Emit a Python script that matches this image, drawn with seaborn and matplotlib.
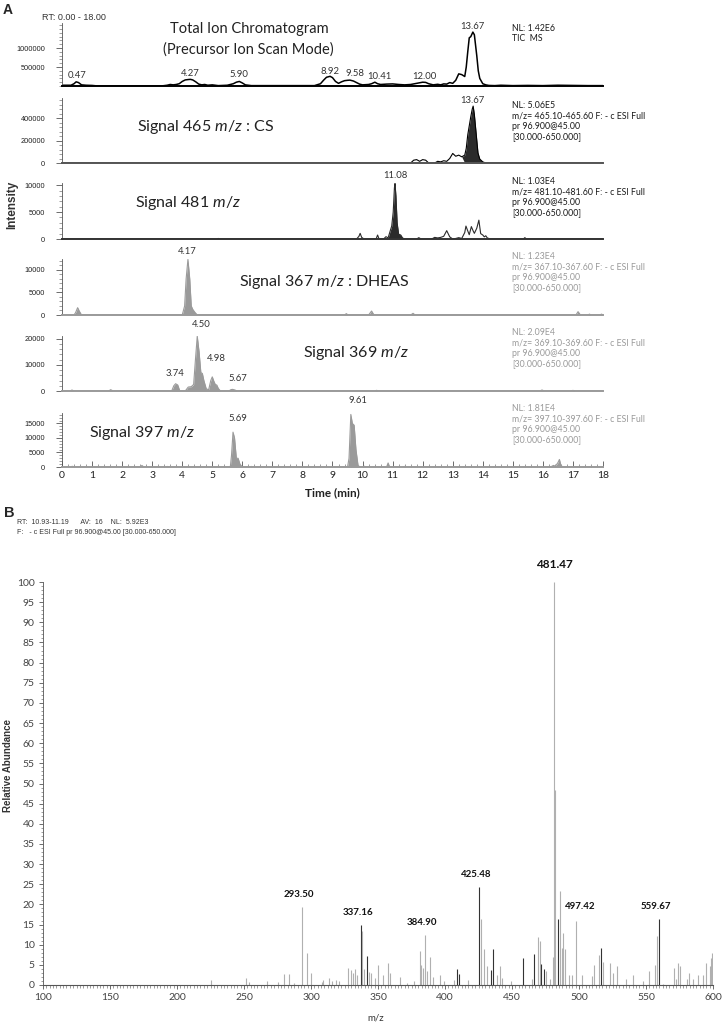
import numpy as np
import matplotlib
matplotlib.use("Agg")
import matplotlib.pyplot as plt
import seaborn as sns
from matplotlib.ticker import MultipleLocator

# ---- chromatogram traces (time in min, intensity in counts) ----
tic_t = [0.0, 0.3, 0.4, 0.47, 0.55, 0.65, 0.8, 1.0, 1.2, 3.3, 3.5, 3.6, 3.7, 3.8, 3.9, 4.0, 4.1, 4.2, 4.27,
         4.35, 4.45, 4.55, 4.65, 4.75, 4.85, 5.0, 5.2, 5.5, 5.7, 5.8, 5.9, 6.0, 6.1, 6.3, 8.4, 8.6, 8.7, 8.8,
         8.92, 9.0, 9.1, 9.2, 9.3, 9.4, 9.5, 9.58, 9.7, 9.8, 9.9, 10.0, 10.2, 10.3, 10.41, 10.5, 10.6, 10.8,
         11.0, 11.2, 11.4, 11.6, 11.8, 11.9, 12.0, 12.1, 12.2, 12.35, 12.5, 12.6, 12.7, 12.8, 12.9, 13.0, 13.1,
         13.2, 13.3, 13.4, 13.45, 13.5, 13.55, 13.6, 13.67, 13.72, 13.8, 13.85, 13.9, 14.0, 14.1, 14.2, 14.4,
         14.6, 15.0, 15.5, 16.0, 16.5, 17.0, 17.5, 18.0]
tic_i = [20e3, 20e3, 60e3, 110e3, 90e3, 30e3, 20e3, 15e3, 0, 0, 20e3, 40e3, 30e3, 40e3, 60e3, 120e3, 160e3,
         170e3, 175e3, 160e3, 110e3, 50e3, 30e3, 40e3, 20e3, 30e3, 10e3, 20e3, 60e3, 100e3, 120e3, 80e3, 30e3,
         10e3, 10e3, 60e3, 150e3, 230e3, 255e3, 220e3, 120e3, 70e3, 110e3, 140e3, 150e3, 155e3, 130e3, 90e3,
         50e3, 30e3, 40e3, 60e3, 100e3, 60e3, 40e3, 50e3, 55e3, 40e3, 30e3, 40e3, 70e3, 85e3, 100e3, 95e3,
         60e3, 30e3, 45e3, 30e3, 55e3, 50e3, 90e3, 70e3, 150e3, 320e3, 300e3, 250e3, 500e3, 900e3, 1270e3,
         1300e3, 1420e3, 1350e3, 800e3, 400e3, 200e3, 60e3, 30e3, 15e3, 10e3, 20e3, 10e3, 15e3, 10e3, 20e3,
         15e3, 10e3, 10e3]

cs_t = [0.0, 11.6, 11.7, 11.8, 11.9, 12.0, 12.1, 12.2, 12.4, 12.5, 12.6, 12.7, 12.8, 12.9, 13.0, 13.1, 13.2,
        13.3, 13.4, 13.45, 13.5, 13.55, 13.6, 13.65, 13.68, 13.72, 13.78, 13.84, 13.9, 14.0, 14.1, 18.0]
cs_i = [0, 0, 25e3, 30e3, 15e3, 30e3, 25e3, 0, 0, 15e3, 10e3, 20e3, 15e3, 40e3, 85e3, 60e3, 70e3, 55e3,
        70e3, 130e3, 250e3, 330e3, 410e3, 480e3, 506e3, 430e3, 260e3, 90e3, 35e3, 10e3, 0, 0]

s481_t = [0.0, 5.15, 5.2, 5.25, 9.8, 9.88, 9.92, 9.97, 10.05, 10.45, 10.5, 10.55, 10.7, 10.78, 10.85, 10.92,
          10.97, 11.02, 11.06, 11.08, 11.11, 11.15, 11.2, 11.27, 11.33, 11.4, 11.8, 11.87, 11.95, 12.3, 12.4,
          12.5, 12.6, 12.7, 12.8, 12.9, 13.0, 13.1, 13.2, 13.3, 13.4, 13.44, 13.5, 13.55, 13.62, 13.68, 13.72,
          13.8, 13.87, 13.93, 14.0, 14.05, 14.1, 14.15, 14.25, 15.35, 15.4, 15.45, 18.0]
s481_i = [0, 0, 100, 0, 0, 500, 1050, 300, 0, 0, 740, 0, 0, 430, 200, 1500, 2400, 5000, 9500, 10300, 8000,
          3000, 900, 740, 200, 0, 0, 250, 0, 0, 300, 200, 300, 500, 1550, 400, 0, 100, 250, 100, 1200, 2400,
          1500, 800, 2300, 1500, 1050, 2000, 3500, 1000, 740, 400, 600, 200, 0, 0, 250, 0, 0]

dheas_t = [0.0, 0.4, 0.45, 0.52, 0.58, 0.65, 4.0, 4.08, 4.13, 4.19, 4.25, 4.3, 4.35, 4.42, 4.5, 9.4, 9.46,
           9.52, 10.2, 10.3, 10.38, 11.6, 11.68, 11.75, 17.1, 17.17, 17.25, 17.5, 17.55, 17.6, 17.9, 17.95, 18.0]
dheas_i = [0, 0, 500, 1620, 800, 0, 0, 2000, 8000, 12300, 8000, 2000, 1250, 600, 0, 0, 300, 0, 0, 880, 0,
           0, 370, 0, 0, 740, 0, 0, 200, 0, 0, 200, 0]

s369_t = [0.0, 0.28, 0.33, 0.4, 1.55, 1.62, 1.7, 3.65, 3.72, 3.78, 3.85, 3.92, 4.1, 4.2, 4.3, 4.38, 4.44, 4.5,
          4.56, 4.62, 4.67, 4.72, 4.8, 4.88, 4.95, 5.0, 5.05, 5.1, 5.15, 5.2, 5.27, 5.55, 5.62, 5.67, 5.75,
          5.82, 10.4, 10.47, 10.53, 15.9, 15.97, 16.05, 16.95, 17.0, 17.06, 18.0]
s369_i = [0, 0, 380, 0, 0, 500, 0, 0, 2000, 2770, 2300, 0, 0, 1500, 1640, 2500, 12000, 20900, 15000, 7000,
          6700, 4000, 800, 500, 4000, 5400, 3800, 2500, 2270, 1000, 0, 0, 500, 630, 400, 0, 0, 250, 0, 0, 380,
          0, 0, 250, 0, 0]

s397_t = [0.0, 0.3, 0.34, 0.4, 2.6, 2.66, 2.72, 3.45, 3.5, 3.55, 5.6, 5.64, 5.69, 5.74, 5.8, 5.86, 5.92, 6.0,
          6.25, 6.3, 6.35, 9.5, 9.55, 9.61, 9.66, 9.72, 9.78, 9.85, 9.92, 10.0, 10.05, 10.1, 10.8, 10.85, 10.9,
          11.35, 11.4, 11.45, 16.25, 16.35, 16.42, 16.5, 16.55, 16.6, 16.66, 17.55, 17.6, 17.65, 18.0]
s397_i = [0, 0, 250, 0, 0, 540, 0, 0, 200, 0, 0, 4000, 12000, 10000, 3000, 3000, 1000, 0, 0, 200, 0, 0, 3000,
          18100, 15000, 14400, 6000, 500, 0, 0, 300, 0, 0, 1400, 0, 0, 200, 0, 0, 540, 300, 1500, 2600, 600, 0,
          0, 200, 0, 0]

# peak labels per trace
tic_labels = ["0.47", "4.27", "5.90", "8.92", "9.58", "10.41", "12.00", "13.67"]
cs_labels = ["13.67"]
s481_labels = ["11.08"]
dheas_labels = ["4.17"]
s369_labels = ["3.74", "4.50", "4.98", "5.67"]
s397_labels = ["5.69", "9.61"]

nl_texts = ["NL: 1.42E6\nTIC  MS",
            "NL: 5.06E5\nm/z= 465.10-465.60 F: - c ESI Full\npr 96.900@45.00\n[30.000-650.000]",
            "NL: 1.03E4\nm/z= 481.10-481.60 F: - c ESI Full\npr 96.900@45.00\n[30.000-650.000]",
            "NL: 1.23E4\nm/z= 367.10-367.60 F: - c ESI Full\npr 96.900@45.00\n[30.000-650.000]",
            "NL: 2.09E4\nm/z= 369.10-369.60 F: - c ESI Full\npr 96.900@45.00\n[30.000-650.000]",
            "NL: 1.81E4\nm/z= 397.10-397.60 F: - c ESI Full\npr 96.900@45.00\n[30.000-650.000]"]

# ---- mass spectrum (m/z, relative abundance) ----
ms_mz = [225.7, 251.5, 253.9, 267.0, 275.3, 279.7, 283.5, 287.6, 293.50, 297.3, 300.0, 308.3, 309.3, 313.8,
         315.9, 318.6, 321.0, 327.9, 329.7, 331.4, 333.1, 334.1, 337.16, 338.0, 339.3, 341.7, 343.4, 344.8,
         347.9, 350.3, 353.8, 357.2, 359.3, 366.2, 372.0, 377.2, 381.3, 382.3, 383.4, 384.90, 386.8, 388.5,
         391.0, 396.1, 399.5, 406.4, 409.2, 410.6, 416.8, 425.48, 427.1, 428.8, 431.6, 434.0, 435.7, 438.5,
         440.9, 442.6, 449.5, 458.1, 465.0, 466.7, 469.5, 470.8, 471.8, 473.6, 475.3, 478.7, 480.5, 481.47,
         482.4, 484.3, 485.7, 487.0, 487.7, 489.5, 492.9, 494.6, 497.42, 502.6, 509.5, 511.2, 514.7, 516.4,
         518.1, 523.3, 525.0, 528.5, 535.4, 540.5, 547.4, 552.6, 556.7, 558.5, 559.67, 563.0, 570.6, 572.7,
         574.0, 575.1, 580.3, 582.0, 585.4, 588.9, 592.3, 594.7, 597.5, 598.5, 599.6]
ms_ab = [1.3, 1.7, 0.8, 1.0, 0.8, 2.7, 2.8, 0.6, 19.4, 7.9, 3.0, 0.8, 1.3, 1.7, 1.0, 1.3, 1.0, 4.3, 3.6, 3.0,
         4.0, 2.4, 14.9, 13.4, 4.0, 7.1, 3.2, 3.0, 1.7, 5.0, 2.5, 5.5, 3.0, 2.0, 0.5, 1.0, 8.5, 5.0, 4.2, 12.3,
         3.4, 7.0, 2.1, 2.5, 1.0, 1.3, 4.0, 2.8, 1.3, 24.2, 16.3, 8.9, 4.6, 3.8, 8.9, 2.4, 4.7, 1.8, 0.9, 6.6,
         1.4, 7.7, 11.9, 10.9, 5.1, 4.0, 3.4, 1.4, 7.0, 100.0, 48.5, 16.4, 23.3, 9.1, 13.0, 8.9, 2.6, 2.4, 15.8,
         2.6, 2.2, 5.0, 7.4, 9.2, 5.8, 5.4, 3.0, 4.6, 1.4, 2.6, 1.0, 3.4, 5.0, 12.1, 16.3, 0.3, 4.3, 1.6, 5.5,
         4.6, 1.4, 3.0, 1.4, 2.4, 2.6, 5.4, 4.7, 6.7, 7.9]
ms_labels = ["293.50", "337.16", "384.90", "425.48", "481.47", "497.42", "559.67"]

sns.set_theme(style="ticks")
plt.rcParams['font.family'] = ['Lato', 'DejaVu Sans']
plt.rcParams['mathtext.fontset'] = 'custom'
plt.rcParams['mathtext.rm'] = 'Lato'
plt.rcParams['mathtext.it'] = 'Lato:italic'
NARROW = ['Liberation Sans Narrow', 'Liberation Sans', 'DejaVu Sans']
ARIAL = ['Liberation Sans', 'DejaVu Sans']

W, H = 727, 1023
fig = plt.figure(figsize=(W / 100, H / 100), dpi=100)


def box(x0, y0, x1, y1):
    return fig.add_axes([x0 / W, 1 - y1 / H, (x1 - x0) / W, (y1 - y0) / H])


def ftext(x, y, s, **kw):
    return fig.text(x / W, 1 - y / H, s, **kw)


DARK, GRAY = '#2b2b2b', '#9a9a9a'
panels = [
    # trace, labels, top, bottom, ymax, majors, minor, line, fill, fill range, label offsets (px)
    (tic_t, tic_i, tic_labels, 23, 86, 1.66e6, [500000, 1000000], 1e5, 'black', None, None,
     [(1, 6), (0, 6), (0, 7), (0, 5), (5, 7), (4, 6), (2, 6), (0, 6)]),
    (cs_t, cs_i, cs_labels, 98, 163, 5.78e5, [0, 200000, 400000], 4e4, 'black', DARK, (13.4, 14.1), [(0, 6)]),
    (s481_t, s481_i, s481_labels, 183, 239, 1.04e4, [0, 5000, 10000], 1e3, DARK, DARK, (10.88, 11.35), [(0, 8)]),
    (dheas_t, dheas_i, dheas_labels, 259, 315, 1.24e4, [0, 5000, 10000], 1e3, GRAY, GRAY, (0, 18), [(0, 8)]),
    (s369_t, s369_i, s369_labels, 336, 391, 2.1e4, [0, 10000, 20000], 2e3, GRAY, GRAY, (0, 18),
     [(1, 10), (4, 12), (5, 18), (5, 11)]),
    (s397_t, s397_i, s397_labels, 413, 467, 1.86e4, [0, 5000, 10000, 15000], 1e3, GRAY, GRAY, (0, 18),
     [(5, 14), (7, 14)]),
]
nl_tops = [24, 101, 177, 252, 328, 404]
base_cols = ['black', '#555555', '#333333', GRAY, GRAY, GRAY]

for k, (t, v, labs, top, bot, ymax, majors, minor, lc, fc, frange, offs) in enumerate(panels):
    ax = box(62, top, 603, bot)
    t = np.array(t)
    v = np.array(v)
    if fc is not None:
        m = (t >= frange[0]) & (t <= frange[1])
        ax.fill_between(t, v, where=m, color=fc, lw=0, interpolate=True)
    sns.lineplot(x=t, y=v, ax=ax, color=lc, lw=1.1 if k == 0 else 0.8, estimator=None, sort=False)
    ax.set_xlim(0, 18)
    ax.set_ylim(0, ymax)
    for s in ['top', 'right']:
        ax.spines[s].set_visible(False)
    ax.spines['bottom'].set_color(base_cols[k])
    ax.spines['bottom'].set_linewidth(1.4)
    ax.spines['left'].set_color('#555555')
    ax.spines['left'].set_linewidth(0.6)
    ax.set_yticks(majors, labels=[str(mj) for mj in majors], fontsize=5.3, fontfamily=NARROW, color='#222222')
    ax.yaxis.set_minor_locator(MultipleLocator(minor))
    ax.tick_params(axis='y', which='major', direction='out', length=4, width=0.6, color='#555555', pad=8)
    ax.tick_params(axis='y', which='minor', direction='out', length=2.5, width=0.5, color='#777777')
    if k < 5:
        ax.set_xticks([])
        ax.tick_params(axis='x', which='both', length=0)
    else:
        ax.set_xticks(range(19), labels=[str(i) for i in range(19)], fontsize=7.5, color='#222222')
        ax.xaxis.set_minor_locator(MultipleLocator(0.2))
        ax.tick_params(axis='x', which='major', direction='in', length=4.5, width=0.6, color='#555555', pad=3)
        ax.tick_params(axis='x', which='minor', direction='in', length=2.5, width=0.5, color='#777777')
    ax.set_xlabel('')
    ax.set_ylabel('')
    # peak labels
    for lab, (dx, dy) in zip(labs, offs):
        tp = float(lab)
        near = np.abs(t - tp) <= 0.12
        pk = v[near].max()
        ax.annotate(lab, xy=(tp, pk), xytext=(dx * 0.72, dy * 0.72), textcoords='offset points',
                    ha='center', va='center', fontsize=6.8, color='#333333', annotation_clip=False)
    ftext(512, nl_tops[k], nl_texts[k], fontsize=6.3, va='top', ha='left', linespacing=1.2,
          color='#1a1a1a' if k < 3 else '#9a9a9a')

ftext(3, 3, "A", fontsize=10, fontweight='bold', fontfamily=ARIAL, va='top', ha='left')
ftext(42, 17, "RT: 0.00 - 18.00", fontsize=6.5, fontfamily=NARROW, va='center', ha='left', color='#333333')
ftext(249, 29, "Total Ion Chromatogram", fontsize=10.5, ha='center', va='center', color='#222222')
ftext(248, 50, "(Precursor Ion Scan Mode)", fontsize=10.5, ha='center', va='center', color='#222222')
sig_kw = dict(fontsize=11.5, ha='center', va='center', color='#222222')
ftext(205, 127, "Signal 465 $m/z$ : CS", **sig_kw)
ftext(188, 203, "Signal 481 $m/z$", **sig_kw)
ftext(324, 282, "Signal 367 $m/z$ : DHEAS", **sig_kw)
ftext(356, 353, "Signal 369 $m/z$", **sig_kw)
ftext(142, 433, "Signal 397 $m/z$", **sig_kw)
ftext(332, 493, "Time (min)", fontsize=8.5, fontweight='bold', ha='center', va='center', color='#222222')
ftext(12, 205, "Intensity", fontsize=8.5, fontweight='bold', fontfamily=ARIAL, rotation=90,
      ha='center', va='center', color='#333333')

# ---- panel B ----
ftext(4, 506, "B", fontsize=10.5, fontweight='bold', fontfamily=ARIAL, va='top', ha='left')
ftext(17, 523, "RT:  10.93-11.19      AV:  16    NL:  5.92E3", fontsize=5, fontfamily=NARROW,
      va='center', ha='left', color='#333333')
ftext(17, 532, "F:   - c ESI Full pr 96.900@45.00 [30.000-650.000]", fontsize=5, fontfamily=NARROW,
      va='center', ha='left', color='#333333')

axb = box(43, 582, 713, 985)
dark_mz = {337.16, 341.7, 409.2, 410.6, 425.48, 434.0, 435.7, 458.1, 466.7, 471.8, 473.6, 484.3, 516.4, 559.67}
cols = ['#333333' if m in dark_mz else '#b0b0b0' for m in ms_mz]
axb.vlines(ms_mz, 0, ms_ab, colors=cols, lw=0.8)
axb.set_xlim(100, 600)
axb.set_ylim(0, 100)
for s in ['top', 'right']:
    axb.spines[s].set_visible(False)
axb.spines['left'].set_color('#555555')
axb.spines['left'].set_linewidth(0.6)
axb.spines['bottom'].set_color('#555555')
axb.spines['bottom'].set_linewidth(0.8)
axb.set_yticks(range(0, 101, 5), labels=[str(i) for i in range(0, 101, 5)], fontsize=7.5, color='#444444')
axb.set_xticks(range(100, 601, 50), labels=[str(i) for i in range(100, 601, 50)], fontsize=7.5, color='#444444')
axb.yaxis.set_minor_locator(MultipleLocator(1))
axb.xaxis.set_minor_locator(MultipleLocator(2.5))
axb.tick_params(axis='both', which='major', direction='out', length=3, width=0.6, color='#555555', pad=3)
axb.tick_params(axis='both', which='minor', direction='out', length=1.8, width=0.5, color='#777777')
ms_mz_arr = np.array(ms_mz)
ms_ab_arr = np.array(ms_ab)
for lab in ms_labels:
    mzv = float(lab)
    pk = ms_ab_arr[np.argmin(np.abs(ms_mz_arr - mzv))]
    big = lab == "481.47"
    dx = 5 if lab == "497.42" else (0 if big else -3)
    dy = 17 if big else (15 if lab == "497.42" else 12.5)
    axb.annotate(lab, xy=(mzv, pk), xytext=(dx * 0.72, dy * 0.72), textcoords='offset points',
                 ha='center', va='center', fontsize=8.5 if big else 7, fontweight='bold',
                 color='#111111', annotation_clip=False)

ftext(8, 765, "Relative Abundance", fontsize=7, fontweight='bold', fontfamily=ARIAL, rotation=90,
      ha='center', va='center', color='#333333')
ftext(376, 1018, "m/z", fontsize=7, ha='center', va='center', color='#333333')

fig.savefig("out.png", dpi=100)
